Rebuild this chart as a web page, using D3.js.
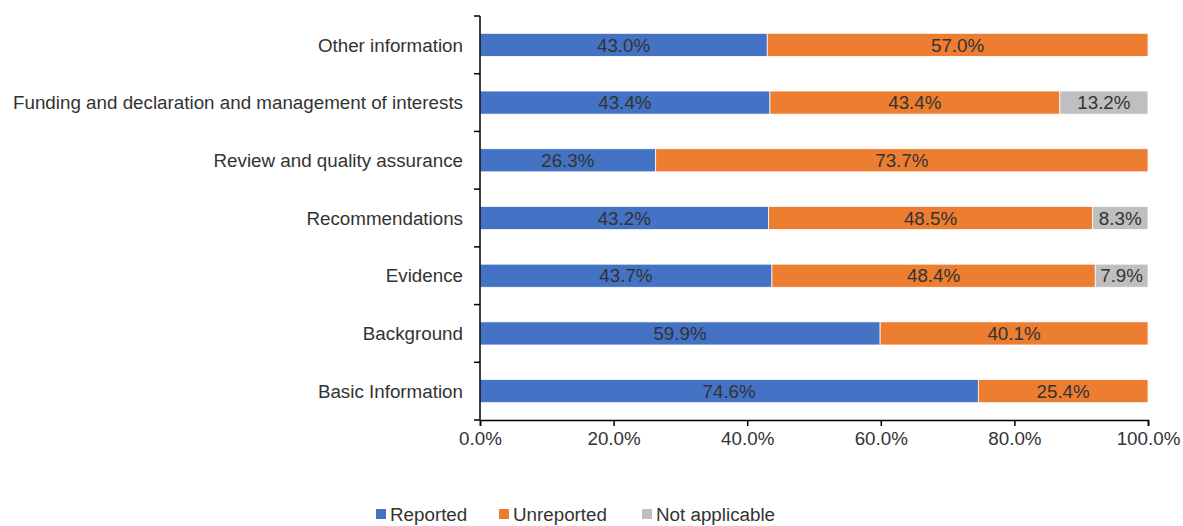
<!DOCTYPE html>
<html><head><meta charset="utf-8">
<script src="https://cdn.jsdelivr.net/npm/d3@7"></script>
<style>body{margin:0;background:#fff}svg{display:block}text{font-family:"Liberation Sans",Arial,sans-serif}</style>
</head><body><svg id="c" width="1183" height="526"></svg>
<script>
const categories = ["Other information","Funding and declaration and management of interests","Review and quality assurance","Recommendations","Evidence","Background","Basic Information"];
const reported = [43.0,43.4,26.3,43.2,43.7,59.9,74.6];
const unreported = [57.0,43.4,73.7,48.5,48.4,40.1,25.4];
const notApplicable = [0,13.2,0,8.3,7.9,0,0];
const seriesNames = ["Reported","Unreported","Not applicable"];
const colors = ["#4472C4","#ED7D31","#BFBFBF"];
const xTicks = [0,20,40,60,80,100];
const FS = 18.8;

const svg = d3.select("#c");
const x = d3.scaleLinear().domain([0,100]).range([480,1148]);
const y = d3.scaleBand().domain(categories).range([16,420]).paddingInner(0.6).paddingOuter(0.3);
const rows = categories.map((c,i)=>({cat:c, vals:[reported[i],unreported[i],notApplicable[i]]}));

rows.forEach(r=>{
  let acc=0;
  r.vals.forEach((v,j)=>{
    if(v<=0) return;
    const x0=x(acc), x1=x(acc+v);
    svg.append("rect").attr("x",x0).attr("y",y(r.cat)).attr("width",x1-x0).attr("height",y.bandwidth())
      .attr("fill",colors[j]).attr("stroke","#fff").attr("stroke-width",0.75);
    svg.append("text").attr("x",(x0+x1)/2).attr("y",y(r.cat)+y.bandwidth()/2).attr("dy","0.36em")
      .attr("text-anchor","middle").attr("font-size",FS).attr("fill","#333").text(v.toFixed(1)+"%");
    acc+=v;
  });
});

// y axis with boundary ticks
const yAxisG = svg.append("g");
yAxisG.append("line").attr("x1",480).attr("x2",480).attr("y1",16).attr("y2",420).attr("stroke","#000").attr("stroke-width",1.5);
d3.range(categories.length+1).forEach(i=>{
  const yy = 16 + i*(404/categories.length);
  yAxisG.append("line").attr("x1",474).attr("x2",480).attr("y1",yy).attr("y2",yy).attr("stroke","#000").attr("stroke-width",1.5);
});
categories.forEach(c=>{
  yAxisG.append("text").attr("x",463).attr("y",y(c)+y.bandwidth()/2).attr("dy","0.36em")
    .attr("text-anchor","end").attr("font-size",FS).attr("fill","#333").text(c);
});

// x axis
const xAxis = d3.axisBottom(x).tickValues(xTicks).tickFormat(d=>d.toFixed(1)+"%").tickSize(6).tickPadding(6);
const xg = svg.append("g").attr("transform","translate(0,420)").call(xAxis);
xg.select(".domain").attr("stroke","#000").attr("stroke-width",1.5);
xg.selectAll(".tick line").attr("stroke","#000").attr("stroke-width",1.5);
xg.selectAll(".tick text").attr("font-size",FS).attr("fill","#333").attr("font-family","Liberation Sans, Arial, sans-serif");

// legend
const legX = [376,499,642];
seriesNames.forEach((n,i)=>{
  svg.append("rect").attr("x",legX[i]).attr("y",509).attr("width",10).attr("height",10).attr("fill",colors[i]);
  svg.append("text").attr("x",legX[i]+14).attr("y",514).attr("dy","0.36em").attr("font-size",FS).attr("fill","#333").text(n);
});
</script></body></html>
